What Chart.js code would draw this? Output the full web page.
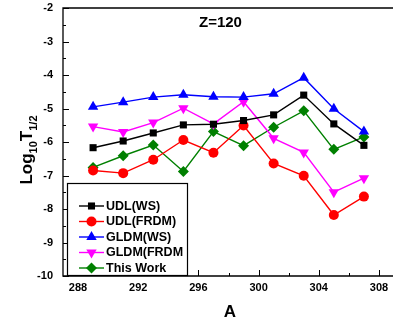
<!DOCTYPE html>
<html>
<head>
<meta charset="utf-8">
<script src="https://cdn.jsdelivr.net/npm/chart.js@4"></script>
<style>
  html, body { margin: 0; padding: 0; background: #fff; overflow: hidden; }
  #wrap { position: relative; width: 400px; height: 324px; }
</style>
</head>
<body>
<div id="wrap"><canvas id="c"></canvas></div>
<script>
// mass numbers
const massA = [289, 291, 293, 295, 297, 299, 301, 303, 305, 307];
// log10 T1/2 values for Z=120
const udlWS    = [-6.17, -5.97, -5.73, -5.49, -5.47, -5.36, -5.19, -4.60, -5.46, -6.10];
const udlFRDM  = [-6.85, -6.93, -6.53, -5.94, -6.32, -5.51, -6.64, -7.01, -8.18, -7.63];
const gldmWS   = [-4.95, -4.81, -4.66, -4.59, -4.65, -4.66, -4.56, -4.08, -5.01, -5.69];
const gldmFRDM = [-5.54, -5.70, -5.42, -4.99, -5.46, -4.80, -5.89, -6.31, -7.50, -7.08];
const thisWork = [-6.76, -6.41, -6.09, -6.88, -5.69, -6.11, -5.56, -5.07, -6.22, -5.85];
const xTicks = [288, 292, 296, 300, 304, 308];
const yTicks = [-10, -9, -8, -7, -6, -5, -4, -3, -2];

const FONT = '"Liberation Sans", Arial, sans-serif';

function series(label, ys, color, style, size, rot) {
  return {
    label, data: ys.map((y, i) => ({x: massA[i], y})),
    borderColor: color, backgroundColor: color,
    borderWidth: 1.4, pointStyle: style, pointRadius: size, pointRotation: rot || 0,
    pointBorderWidth: 0, tension: 0
  };
}

const decor = {
  id: 'decor',
  afterDraw(chart) {
    const ctx = chart.ctx, a = chart.chartArea;
    const xs = chart.scales.x, ys = chart.scales.y;
    ctx.save();
    ctx.strokeStyle = '#000';
    ctx.lineWidth = 1.3;
    // frame (left, top, bottom)
    ctx.beginPath();
    ctx.moveTo(a.right + 2, a.top); ctx.lineTo(a.left, a.top);
    ctx.lineTo(a.left, a.bottom); ctx.lineTo(a.right + 2, a.bottom);
    ctx.stroke();
    // ticks pointing inward
    ctx.lineWidth = 1;
    ctx.beginPath();
    for (let v = 286; v <= 310; v += 2) {
      const px = Math.round(xs.getPixelForValue(v)) + 0.5;
      if (px < a.left + 1) continue;
      const len = xTicks.includes(v) ? 6 : 3;
      ctx.moveTo(px, a.bottom); ctx.lineTo(px, a.bottom - len);
    }
    for (let v = -10; v <= -2; v += 0.5) {
      const py = Math.round(ys.getPixelForValue(v)) + 0.5;
      const len = Number.isInteger(v) ? 6 : 3;
      ctx.moveTo(a.left, py); ctx.lineTo(a.left + len, py);
    }
    ctx.stroke();
    // tick labels
    ctx.fillStyle = '#000';
    ctx.font = 'bold 11px ' + FONT;
    ctx.textAlign = 'center'; ctx.textBaseline = 'middle';
    xTicks.forEach(v => ctx.fillText(String(v), xs.getPixelForValue(v), a.bottom + 12));
    ctx.textAlign = 'right';
    yTicks.forEach(v => ctx.fillText(String(v), a.left - 10, ys.getPixelForValue(v)));
    // x title
    ctx.font = 'bold 17px ' + FONT;
    ctx.textAlign = 'center';
    ctx.fillText('A', 230, 312);
    // in-plot title
    ctx.font = 'bold 15px ' + FONT;
    ctx.textAlign = 'left';
    ctx.fillText('Z=120', 199, 23);
    // y title with subscripts
    ctx.translate(26, 150);
    ctx.rotate(-Math.PI / 2);
    const parts = [['Log', 17, 0], ['10', 11, 5], ['T', 17, 0], ['1/2', 11, 5]];
    let total = 0;
    parts.forEach(p => { ctx.font = 'bold ' + p[1] + 'px ' + FONT; total += ctx.measureText(p[0]).width; });
    let x = -total / 2;
    ctx.textAlign = 'left'; ctx.textBaseline = 'alphabetic';
    parts.forEach(p => {
      ctx.font = 'bold ' + p[1] + 'px ' + FONT;
      ctx.fillText(p[0], x, 6 + p[2]);
      x += ctx.measureText(p[0]).width;
    });
    ctx.restore();

    // legend box
    ctx.save();
    const bx = 67.5, by = 183.5, bw = 120, bh = 92;
    ctx.fillStyle = '#fff';
    ctx.fillRect(bx, by, bw, bh);
    ctx.strokeStyle = '#000'; ctx.lineWidth = 1.2;
    ctx.strokeRect(bx, by, bw, bh);
    ctx.font = 'bold 12.5px ' + FONT;
    ctx.textBaseline = 'middle'; ctx.textAlign = 'left';
    chart.data.datasets.forEach((ds, i) => {
      const cy = 206 + i * 15.5;
      ctx.strokeStyle = ds.borderColor; ctx.lineWidth = 1.4;
      ctx.beginPath(); ctx.moveTo(79, cy); ctx.lineTo(104, cy); ctx.stroke();
      ctx.fillStyle = ds.backgroundColor;
      Chart.helpers.drawPoint(ctx, {pointStyle: ds.pointStyle, rotation: ds.pointRotation, radius: ds.pointRadius, borderWidth: 0}, 91.5, cy);
      ctx.fillStyle = '#000';
      ctx.fillText(ds.label, 106, cy + 0.5);
    });
    ctx.restore();
  }
};

new Chart(document.getElementById('c'), {
  type: 'line',
  data: {
    datasets: [
      series('UDL(WS)', udlWS, '#000000', 'rect', 5),
      series('UDL(FRDM)', udlFRDM, '#ff0000', 'circle', 5),
      series('GLDM(WS)', gldmWS, '#0000ff', 'triangle', 6),
      series('GLDM(FRDM', gldmFRDM, '#ff00ff', 'triangle', 6, 180),
      series('This Work', thisWork, '#008000', 'rectRot', 5.5)
    ]
  },
  plugins: [decor],
  options: {
    responsive: true, maintainAspectRatio: false, animation: false,
    layout: {padding: {top: 8, right: 1, left: 0, bottom: 0}},
    plugins: {legend: {display: false}, tooltip: {enabled: false}},
    scales: {
      x: {
        type: 'linear', min: 287, max: 309,
        grid: {display: false}, border: {display: false},
        ticks: {display: false},
        afterFit: s => { s.height = 48; }
      },
      y: {
        min: -10, max: -2,
        grid: {display: false}, border: {display: false},
        ticks: {display: false},
        afterFit: s => { s.width = 63; }
      }
    }
  }
});
</script>
</body>
</html>
